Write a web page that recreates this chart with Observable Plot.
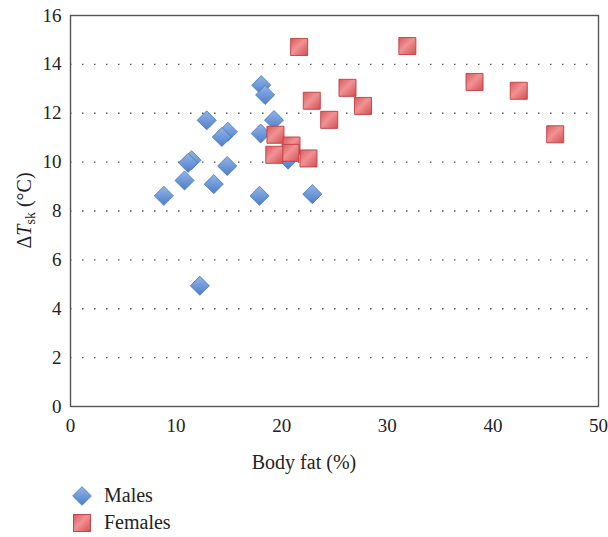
<!DOCTYPE html>
<html>
<head>
<meta charset="utf-8">
<script src="https://cdn.jsdelivr.net/npm/d3@7"></script>
<script src="https://cdn.jsdelivr.net/npm/@observablehq/plot@0.6"></script>
<style>
  body { margin: 0; background: #fff; font-family: "Liberation Serif", serif; }
  #legend { margin-top: 4px; }
  .row { display: flex; align-items: center; height: 27px; font-size: 20px; color: #222; font-family: "Liberation Serif", serif; }
  .row svg { margin-left: 72px; margin-right: 12px; }
</style>
</head>
<body>
<div id="chart"></div>
<div id="legend"></div>
<script>
const maleFat = [18.06, 18.43, 12.9, 19.27, 14.9, 14.33, 18.01, 11.46, 11.14, 14.84, 10.8, 13.57, 8.84, 17.9, 22.9, 12.25, 20.6];
const maleDT  = [13.15, 12.75, 11.71, 11.72, 11.24, 11.03, 11.17, 10.08, 9.97, 9.84, 9.25, 9.1, 8.62, 8.62, 8.69, 4.94, 10.1];
const femaleFat = [21.65, 31.9, 26.23, 22.85, 27.7, 24.5, 38.26, 42.45, 45.9, 19.41, 20.93, 20.83, 19.3, 22.54];
const femaleDT  = [14.71, 14.75, 13.04, 12.51, 12.3, 11.73, 13.28, 12.92, 11.14, 11.12, 10.68, 10.38, 10.3, 10.15];
const xTicks = [0, 10, 20, 30, 40, 50];
const yTicks = [0, 2, 4, 6, 8, 10, 12, 14, 16];
const gridValues = [2, 4, 6, 8, 10, 12, 14];
const seriesNames = ["Males", "Females"];

const males = maleFat.map((x, i) => ({x, y: maleDT[i]}));
const females = femaleFat.map((x, i) => ({x, y: femaleDT[i]}));

const W = 608, H = 478;
const font = '"Liberation Serif", serif';

const plot = Plot.plot({
  width: W,
  height: H,
  marginLeft: 70,
  marginRight: 10,
  marginTop: 15,
  marginBottom: H - 406,
  style: {fontFamily: font, fontSize: "19px", color: "#222", background: "#fff"},
  x: {domain: [0, 50]},
  y: {domain: [0, 16]},
  marks: [
    Plot.ruleY(gridValues, {stroke: "#555", strokeWidth: 1.3, strokeDasharray: "1.5,10.5"}),
    Plot.frame({stroke: "#555", strokeWidth: 1.4}),
    Plot.axisX({ticks: xTicks, tickSize: 0, tickPadding: 12, label: null, fontSize: 19, fontFamily: font}),
    Plot.axisY({ticks: yTicks, tickSize: 0, tickPadding: 9, label: null, fontSize: 19, fontFamily: font}),
    Plot.dot(males, {x: "x", y: "y", symbol: "square", r: 7.6, rotate: 45, fill: "url(#gBlue)", stroke: "#4a78bf", strokeWidth: 0.8}),
    Plot.dot(females, {x: "x", y: "y", symbol: "square", r: 9.6, fill: "url(#gRed)", stroke: "#c23b3d", strokeWidth: 0.9})
  ]
});

const svg = d3.select(plot);
const defs = svg.insert("defs", ":first-child");
const gb = defs.append("linearGradient").attr("id", "gBlue").attr("x1", "0").attr("y1", "0").attr("x2", "1").attr("y2", "1");
gb.append("stop").attr("offset", "0%").attr("stop-color", "#93b5e8");
gb.append("stop").attr("offset", "100%").attr("stop-color", "#4d7ec8");
const gr = defs.append("linearGradient").attr("id", "gRed").attr("x1", "0").attr("y1", "0").attr("x2", "1").attr("y2", "1");
gr.append("stop").attr("offset", "0%").attr("stop-color", "#d95a5c");
gr.append("stop").attr("offset", "45%").attr("stop-color", "#f09294");
gr.append("stop").attr("offset", "100%").attr("stop-color", "#d44f51");

// x-axis title
svg.append("text")
  .attr("x", W / 2).attr("y", 469)
  .attr("text-anchor", "middle")
  .attr("font-family", font).attr("font-size", 20).attr("fill", "#222")
  .text("Body fat (%)");

// y-axis title: ΔT_sk (°C)
const yl = svg.append("text")
  .attr("transform", `translate(31,${(15 + 406) / 2}) rotate(-90)`)
  .attr("text-anchor", "middle")
  .attr("font-family", font).attr("font-size", 20).attr("fill", "#222");
yl.append("tspan").text("Δ");
yl.append("tspan").attr("font-style", "italic").text("T");
yl.append("tspan").attr("font-size", 14).attr("dy", "4").text("sk");
yl.append("tspan").attr("dy", "-4").text(" (°C)");

document.getElementById("chart").appendChild(plot);

// legend
const legend = d3.select("#legend");
const r1 = legend.append("div").attr("class", "row");
const s1 = r1.append("svg").attr("width", 20).attr("height", 20);
s1.append("rect").attr("x", 3.4).attr("y", 3.4).attr("width", 13.2).attr("height", 13.2)
  .attr("transform", "rotate(45,10,10)")
  .attr("fill", "url(#gBlue)").attr("stroke", "#4a78bf").attr("stroke-width", 0.8);
r1.append("span").text(seriesNames[0]);
const r2 = legend.append("div").attr("class", "row");
const s2 = r2.append("svg").attr("width", 20).attr("height", 20);
s2.append("rect").attr("x", 1.5).attr("y", 1.5).attr("width", 17).attr("height", 17)
  .attr("fill", "url(#gRed)").attr("stroke", "#c23b3d").attr("stroke-width", 0.9);
r2.append("span").text(seriesNames[1]);
</script>
</body>
</html>
